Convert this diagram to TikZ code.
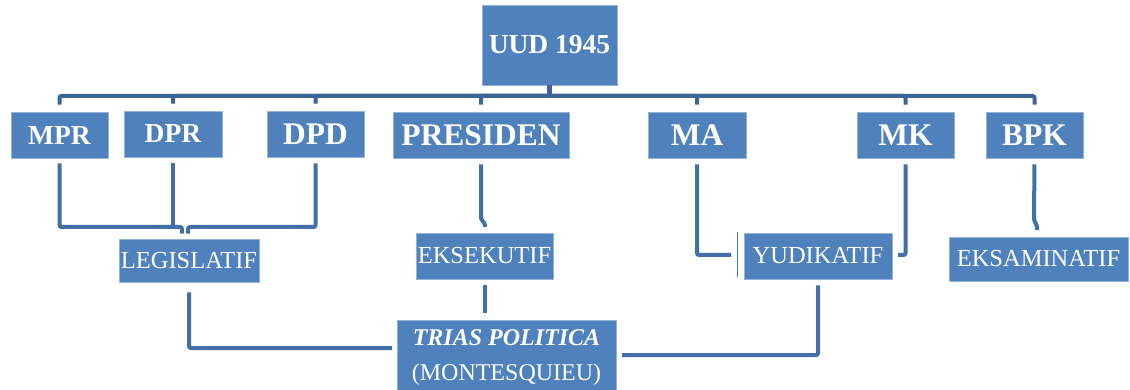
\documentclass[tikz,border=0pt]{standalone}
\usepackage{fontspec}
\setmainfont{Liberation Serif}
\usetikzlibrary{calc}
\definecolor{boxblue}{RGB}{79,129,189}
\definecolor{lineblue}{RGB}{66,111,168}
\tikzset{
  box/.style={fill=boxblue, draw=boxblue!60!white, line width=0.6pt, text=white, inner sep=0pt, anchor=center},
  topbox/.style={box, font=\bfseries\fontsize{31.5}{34}\selectfont},
  smallbox/.style={box, font=\bfseries\fontsize{27.5}{30}\selectfont},
  lowbox/.style={box, font=\fontsize{24.5}{28}\selectfont},
  conn/.style={draw=lineblue, line width=4pt, rounded corners=2pt, line cap=butt},
  bus/.style={conn, draw=lineblue!90!black},
}
\begin{document}
\begin{tikzpicture}[x=1pt,y=-1pt]
\useasboundingbox (0,0) rectangle (1130,390);

% nodes
\node[smallbox, minimum width=135pt, minimum height=80pt] (uud) at (549.5,45) {UUD 1945};
\node[smallbox, minimum width=97pt, minimum height=46pt] (mpr) at (59.5,135) {MPR};
\node[smallbox, minimum width=98pt, minimum height=46pt] (dpr) at (173,134) {DPR};
\node[topbox, minimum width=97pt, minimum height=46pt] (dpd) at (315.5,134) {DPD};
\node[topbox, minimum width=176pt, minimum height=46pt] (pres) at (481,135) {PRESIDEN};
\node[topbox, minimum width=98pt, minimum height=46pt] (ma) at (697,135) {MA};
\node[topbox, minimum width=97pt, minimum height=46pt] (mk) at (905.5,135) {MK};
\node[topbox, minimum width=97pt, minimum height=46pt] (bpk) at (1034.5,135) {BPK};

\node[lowbox, minimum width=140pt, minimum height=43pt] (leg) at (189,260.5) {LEGISLATIF};
\node[lowbox, minimum width=137pt, minimum height=46pt] (eks) at (484.5,256) {EKSEKUTIF};
\node[lowbox, minimum width=148pt, minimum height=46pt] (yud) at (818,256) {YUDIKATIF};
\node[lowbox, minimum width=179pt, minimum height=44pt] (eksam) at (1038.5,259) {EKSAMINATIF};
\node[lowbox, minimum width=219pt, minimum height=75pt, align=center,
      font=\fontsize{24}{35}\selectfont] (trias) at (506.5,357.5)
      {\textbf{\textit{TRIAS POLITICA}}\\(MONTESQUIEU)};

% top bus
\coordinate (busy) at (0,96);
\foreach \c in {mpr,dpr,dpd,pres,ma,mk,bpk}{
  \draw[bus, shorten >=7pt] (uud.south) -- (uud.south |- busy) -| (\c.north);
}

% legislatif branch
\coordinate (lj1) at (182,227);
\coordinate (lj2) at (188,227);
\draw[conn, shorten <=5pt, shorten >=5pt] (mpr.south) |- (lj1) -- (lj1 |- leg.north);
\draw[conn, shorten <=6pt] (dpr.south) -- (dpr.south |- lj1);
\draw[conn, shorten <=6pt, shorten >=5pt] (dpd.south) |- (lj2) -- (lj2 |- leg.north);
\coordinate (tw) at (397,348);
\draw[conn, shorten <=10pt, shorten >=5pt] (leg.south) |- (tw);

% eksekutif branch
\draw[conn, shorten <=6pt, shorten >=6pt] (pres.south) -- (481,220) -- (485,223) -- (485,233);
\draw[conn, shorten <=6pt, shorten >=7pt] (eks.south) -- (eks.south |- trias.north);

% yudikatif branch
\coordinate (yj1) at (731,255);
\coordinate (yj2) at (898,255);
\draw[conn, shorten <=6pt] (ma.south) |- (yj1);
\draw[conn, shorten <=6pt] (mk.south) |- (yj2);
\draw[draw=lineblue, line width=1.6pt] (737.5,232) -- (737.5,277);
\coordinate (te) at (622,355);
\draw[conn, shorten <=6pt] (yud.south) |- (te);

% eksaminatif branch
\draw[conn, shorten <=6pt, shorten >=7pt] (bpk.south) -- (1034,221) -- (1037,225) -- (1037,237);
\end{tikzpicture}
\end{document}
